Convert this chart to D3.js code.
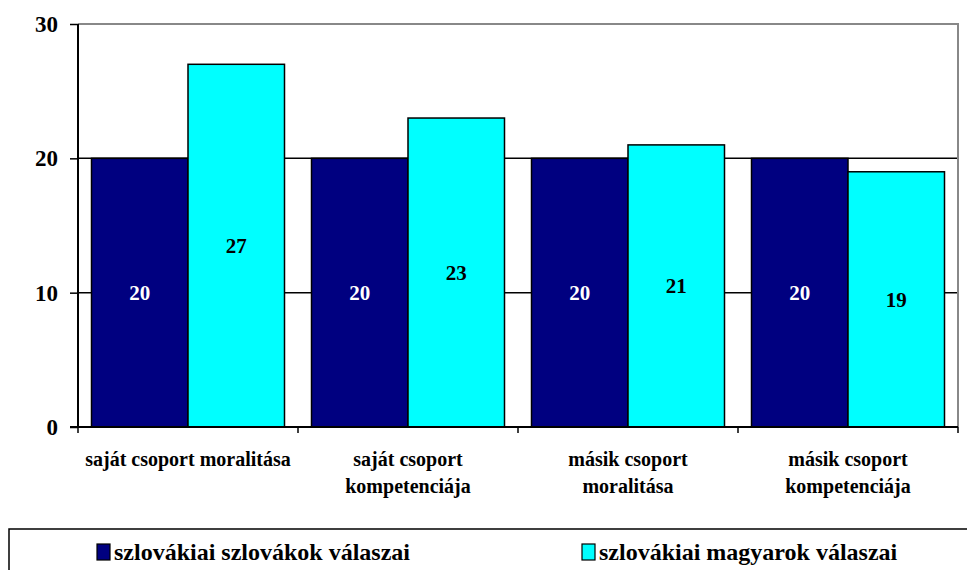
<!DOCTYPE html>
<html><head><meta charset="utf-8">
<script src="https://cdn.jsdelivr.net/npm/d3@7/dist/d3.min.js"></script>
<style>
html,body{margin:0;padding:0;background:#fff;}
svg{display:block;}
</style></head>
<body><svg id="c" width="967" height="570"></svg>
<script>
const categories = [["saját csoport moralitása"], ["saját csoport", "kompetenciája"], ["másik csoport", "moralitása"], ["másik csoport", "kompetenciája"]];
const seriesNames = ["szlovákiai szlovákok válaszai", "szlovákiai magyarok válaszai"];
const slovakValues = [20, 20, 20, 20];
const hungarianValues = [27, 23, 21, 19];
const yTicks = [0, 10, 20, 30];
const colors = ["#000080", "#00FFFF"];
const labelColors = ["#ffffff", "#000000"];

const FONT = "Liberation Serif";
function txt(sel, size) {
  return sel.style("font-family", FONT).style("font-weight", "bold").style("font-size", size + "px");
}

const svg = d3.select("#c");
const L = 78, R = 958, T = 24, B = 427;
const catKeys = categories.map(c => c.join(" "));
const x0 = d3.scaleBand().domain(catKeys).range([L, R]);
const x1 = d3.scaleBand().domain([0, 1]).range([13.5, x0.bandwidth() - 13.5]);
const y = d3.scaleLinear().domain([0, 30]).range([B, T]);

// gridlines
svg.append("g").selectAll("line").data(yTicks.filter(v => v > 0 && v < 30)).join("line")
  .attr("x1", L).attr("x2", R).attr("y1", d => y(d)).attr("y2", d => y(d))
  .attr("stroke", "#000").attr("stroke-width", 1.5);
// plot border top/right (gray)
svg.append("path").attr("d", `M${L},${y(30)}H${R}V${B}`).attr("fill", "none")
  .attr("stroke", "#888").attr("stroke-width", 2);

const data = catKeys.map((k, i) => ({k, vals: [slovakValues[i], hungarianValues[i]]}));
const g = svg.append("g").selectAll("g").data(data).join("g")
  .attr("transform", d => `translate(${x0(d.k)},0)`);
g.selectAll("rect").data(d => d.vals.map((v, s) => ({v, s}))).join("rect")
  .attr("x", d => x1(d.s)).attr("width", x1.bandwidth())
  .attr("y", d => y(d.v)).attr("height", d => B - y(d.v))
  .attr("fill", d => colors[d.s]).attr("stroke", "#000").attr("stroke-width", 1.5);
txt(g.selectAll("text").data(d => d.vals.map((v, s) => ({v, s}))).join("text"), 21)
  .attr("x", d => x1(d.s) + x1.bandwidth() / 2)
  .attr("y", d => (y(d.v) + B) / 2)
  .attr("dy", "0.35em").attr("text-anchor", "middle")
  .attr("fill", d => labelColors[d.s]).text(d => d.v);

// y axis
const ya = svg.append("g").attr("transform", `translate(${L},0)`)
  .call(d3.axisLeft(y).tickValues(yTicks).tickSize(8).tickPadding(12));
ya.select(".domain").attr("stroke", "#000").attr("stroke-width", 2).attr("d", `M0,${y(30)}V${B}`);
ya.selectAll(".tick line").attr("stroke", "#000").attr("stroke-width", 1.5);
txt(ya.selectAll(".tick text"), 23).attr("fill", "#000");

// x axis
svg.append("line").attr("x1", L - 8).attr("x2", R).attr("y1", B).attr("y2", B)
  .attr("stroke", "#000").attr("stroke-width", 2);
const bounds = catKeys.map(k => x0(k)).concat([R]);
svg.append("g").selectAll("line").data(bounds).join("line")
  .attr("x1", d => d).attr("x2", d => d).attr("y1", B).attr("y2", B + 6)
  .attr("stroke", "#000").attr("stroke-width", 1.5);
const cl = txt(svg.append("g").selectAll("text").data(categories).join("text"), 20)
  .attr("x", (d, i) => x0(catKeys[i]) + x0.bandwidth() / 2)
  .attr("y", 459).attr("text-anchor", "middle");
cl.selectAll("tspan").data(d => d).join("tspan")
  .attr("x", function() { return this.parentNode.getAttribute("x"); })
  .attr("dy", (d, i) => i === 0 ? "0.35em" : 27).text(d => d);

// legend
svg.append("rect").attr("x", 9).attr("y", 529).attr("width", 980).attr("height", 60)
  .attr("fill", "none").attr("stroke", "#000").attr("stroke-width", 1.5);
const legX = [97, 582];
const lg = svg.append("g").selectAll("g").data(seriesNames).join("g")
  .attr("transform", (d, i) => `translate(${legX[i]},0)`);
lg.append("rect").attr("x", 0).attr("y", 544).attr("width", 13).attr("height", 16)
  .attr("fill", (d, i) => colors[i]).attr("stroke", "#000").attr("stroke-width", 1.2);
txt(lg.append("text"), 24).attr("x", 17).attr("y", 552).attr("dy", "0.35em").text(d => d);
</script></body></html>
